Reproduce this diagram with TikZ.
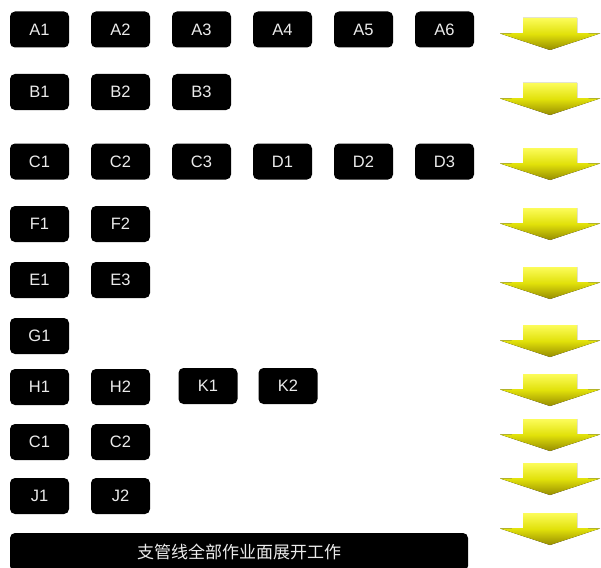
\documentclass[tikz,border=0pt]{standalone}
\usepackage{fontspec}
\setmainfont{Liberation Sans}
\newfontfamily\cjkfont{Noto Sans CJK SC}
\newcommand\yarrow[1]{%
  \fill[top color={rgb,255:red,252;green,252;blue,90}, bottom color={rgb,255:red,150;green,140;blue,0}, middle color={rgb,255:red,225;green,225;blue,10}]
    (523,#1) -- (577,#1) -- (577,#1+15) -- (600,#1+15.5) -- (550,#1+32) -- (500,#1+15.5) -- (523,#1+15) -- cycle;}
\begin{document}
\begin{tikzpicture}[x=1pt,y=-1pt,
  box/.style={fill=black, rounded corners=5pt, minimum width=59pt, minimum height=36pt, inner sep=0pt,
    text={rgb,255:red,235;green,235;blue,235}, font=\fontsize{16.5}{16.5}\selectfont}]
\useasboundingbox (0,0) rectangle (601,567);
% row A
\node[box] (a1) at (39.5,29.5) {A1};
\node[box] (a2) at (120.5,29.5) {A2};
\node[box] (a3) at (201.5,29.5) {A3};
\node[box] (a4) at (282.5,29.5) {A4};
\node[box] (a5) at (363.5,29.5) {A5};
\node[box] (a6) at (444.5,29.5) {A6};
% row B
\node[box] (b1) at (39.5,92) {B1};
\node[box] (b2) at (120.5,92) {B2};
\node[box] (b3) at (201.5,92) {B3};
% row C/D
\node[box] (c1) at (39.5,161.5) {C1};
\node[box] (c2) at (120.5,161.5) {C2};
\node[box] (c3) at (201.5,161.5) {C3};
\node[box] (d1) at (282.5,161.5) {D1};
\node[box] (d2) at (363.5,161.5) {D2};
\node[box] (d3) at (444.5,161.5) {D3};
% row F
\node[box] (f1) at (39.5,224) {F1};
\node[box] (f2) at (120.5,224) {F2};
% row E
\node[box] (e1) at (39.5,280) {E1};
\node[box] (e3) at (120.5,280) {E3};
% row G
\node[box] (g1) at (39.5,336) {G1};
% row H/K
\node[box] (h1) at (39.5,387) {H1};
\node[box] (h2) at (120.5,387) {H2};
\node[box] (k1) at (208,386) {K1};
\node[box] (k2) at (288,386) {K2};
% row C again
\node[box] (c1b) at (39.5,442) {C1};
\node[box] (c2b) at (120.5,442) {C2};
% row J
\node[box] (j1) at (39.5,496) {J1};
\node[box] (j2) at (120.5,496) {J2};
% bottom bar
\node[box, minimum width=458pt, minimum height=38pt, font=\cjkfont\fontsize{17}{17}\selectfont] (bar) at (239,552) {\raisebox{1pt}{支管线全部作业面展开工作}};
% arrows
\yarrow{18}
\yarrow{83}
\yarrow{148}
\yarrow{208}
\yarrow{267}
\yarrow{325}
\yarrow{374}
\yarrow{419}
\yarrow{463}
\yarrow{513}
\end{tikzpicture}
\end{document}
